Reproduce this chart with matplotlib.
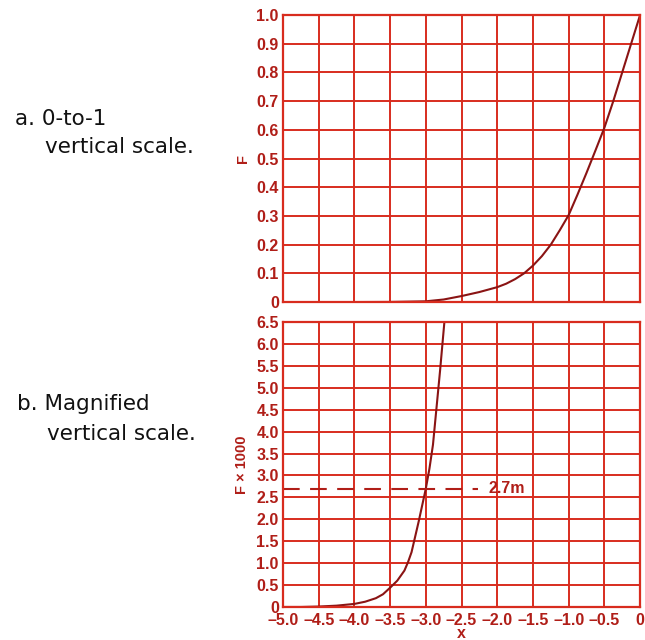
import matplotlib
matplotlib.use("Agg")
import matplotlib.pyplot as plt
from matplotlib.ticker import FixedLocator, FuncFormatter

# values
x_full = [-5.0, -4.5, -4.0, -3.5, -3.0, -2.75, -2.5, -2.25, -2.0, -1.875, -1.75,
          -1.625, -1.5, -1.375, -1.25, -1.125, -1.0, -0.875, -0.75, -0.625,
          -0.5, -0.375, -0.25, -0.125, 0.0]
f_full = [0.0, 0.0, 0.0001, 0.0005, 0.0027, 0.009, 0.021, 0.035, 0.052, 0.064, 0.08,
          0.1, 0.127, 0.16, 0.2, 0.25, 0.303, 0.375, 0.45, 0.528,
          0.607, 0.7, 0.8, 0.9, 1.0]

x_mag = [-5.0, -4.75, -4.5, -4.25, -4.0, -3.85, -3.7, -3.6, -3.5, -3.4, -3.3,
         -3.25, -3.2, -3.1, -3.0, -2.95, -2.9, -2.85, -2.8, -2.74]
f_mag = [0.0, 0.0, 0.01, 0.03, 0.07, 0.12, 0.2, 0.29, 0.44, 0.6, 0.83,
         1.02, 1.25, 1.95, 2.7, 3.15, 3.7, 4.55, 5.4, 6.5]

x_ticks = [-5.0, -4.5, -4.0, -3.5, -3.0, -2.5, -2.0, -1.5, -1.0, -0.5, 0]
y_ticks_a = [0, 0.1, 0.2, 0.3, 0.4, 0.5, 0.6, 0.7, 0.8, 0.9, 1.0]
y_ticks_b = [0, 0.5, 1.0, 1.5, 2.0, 2.5, 3.0, 3.5, 4.0, 4.5, 5.0, 5.5, 6.0, 6.5]
marker_level = 2.7
marker_text = "2.7m"

grid_red = "#d82c1e"
label_red = "#b01e18"
curve_red = "#8a1414"

plt.rcParams["font.family"] = ["Liberation Sans Narrow", "Liberation Sans", "DejaVu Sans"]

fig = plt.figure(figsize=(6.45, 6.40), dpi=100)
ax1 = fig.add_axes([0.4388, 0.528, 0.5535, 0.4484])
ax2 = fig.add_axes([0.4388, 0.0516, 0.5535, 0.4453])


def fmt_x(v, pos):
    if v == 0:
        return "0"
    return ("%.1f" % v).replace("-", "\u2013")


def fmt_y(v, pos):
    if v == 0:
        return "0"
    return "%.1f" % v


for ax, yt in [(ax1, y_ticks_a), (ax2, y_ticks_b)]:
    ax.set_xlim(-5, 0)
    ax.set_ylim(yt[0], yt[-1])
    ax.xaxis.set_major_locator(FixedLocator(x_ticks))
    ax.yaxis.set_major_locator(FixedLocator(yt))
    ax.yaxis.set_major_formatter(FuncFormatter(fmt_y))
    ax.grid(True, color=grid_red, linewidth=1.4)
    ax.set_axisbelow(True)
    for s in ax.spines.values():
        s.set_color(grid_red)
        s.set_linewidth(1.6)
    ax.tick_params(length=0, pad=3, labelcolor=label_red, labelsize=11.5)
    for lab in ax.get_yticklabels():
        lab.set_fontweight("bold")

ax1.tick_params(labelbottom=False)
ax2.tick_params(axis="x", pad=4)
ax2.xaxis.set_major_formatter(FuncFormatter(fmt_x))
for lab in ax2.get_xticklabels():
    lab.set_fontweight("bold")

ax1.plot(x_full, f_full, color=curve_red, linewidth=1.5)
ax2.plot(x_mag, f_mag, color=curve_red, linewidth=1.5)

ax2.plot([-5, -2.27], [marker_level, marker_level], color=label_red,
         linewidth=1.5, dashes=(8, 5))
ax2.text(-2.12, marker_level, marker_text, color=label_red, fontsize=11.5,
         fontweight="bold", va="center", ha="left")

ax1.set_ylabel("F", color=label_red, fontsize=10.5, fontweight="bold", labelpad=5)
ax2.set_ylabel("F \u00d7 1000", color=label_red, fontsize=10.5, fontweight="bold", labelpad=5)
ax2.set_xlabel("x", color=label_red, fontsize=11.5, fontweight="bold", labelpad=-1)

txt = dict(fontsize=15.5, color="#111111", family=["DejaVu Sans"], va="baseline")
fig.text(0.023, 0.805, "a. 0-to-1", **txt)
fig.text(0.07, 0.761, "vertical scale.", **txt)
fig.text(0.026, 0.359, "b. Magnified", **txt)
fig.text(0.073, 0.312, "vertical scale.", **txt)

fig.savefig("out.png", dpi=100, facecolor="white")
